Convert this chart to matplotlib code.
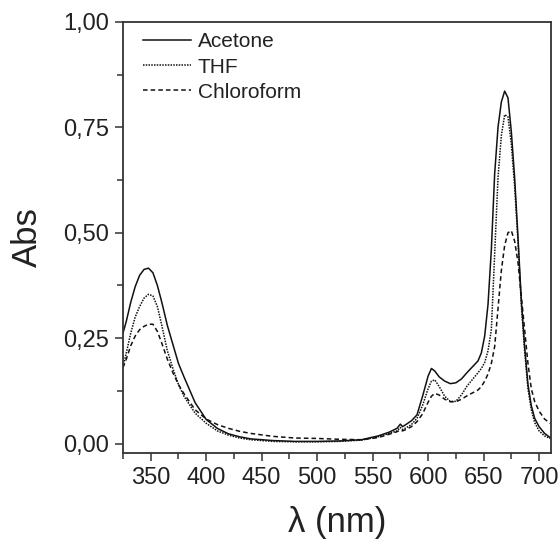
import matplotlib
matplotlib.use("Agg")
import matplotlib.pyplot as plt
from matplotlib.ticker import MultipleLocator, FuncFormatter

plt.rcParams['font.family'] = ['Liberation Sans', 'DejaVu Sans']

wavelength = [325, 328, 332, 336, 340, 344, 348, 352, 356, 360, 365, 370, 375, 380,
              390, 400, 410, 420, 430, 440, 460, 480, 500, 520, 540, 555, 565, 572,
              575, 577, 580, 585, 590, 595, 600, 603, 606, 610, 615, 620, 625, 630,
              635, 640, 645, 648, 651, 654, 657, 660, 663, 666, 669, 672, 675, 678,
              681, 684, 687, 690, 693, 696, 700, 705, 710]

acetone = [0.262, 0.290, 0.335, 0.372, 0.399, 0.413, 0.416, 0.405, 0.375, 0.335, 0.280,
           0.235, 0.190, 0.158, 0.097, 0.057, 0.036, 0.023, 0.016, 0.011, 0.007, 0.005,
           0.005, 0.006, 0.009, 0.018, 0.027, 0.036, 0.046, 0.040, 0.045, 0.054, 0.068,
           0.112, 0.160, 0.178, 0.172, 0.158, 0.148, 0.142, 0.144, 0.153, 0.168, 0.182,
           0.196, 0.215, 0.255, 0.330, 0.460, 0.640, 0.750, 0.810, 0.836, 0.820, 0.740,
           0.630, 0.490, 0.340, 0.230, 0.140, 0.090, 0.060, 0.040, 0.024, 0.014]

thf = [0.182, 0.215, 0.262, 0.300, 0.325, 0.345, 0.354, 0.350, 0.325, 0.280, 0.220,
       0.178, 0.140, 0.112, 0.072, 0.048, 0.030, 0.020, 0.013, 0.009, 0.005, 0.004,
       0.004, 0.005, 0.008, 0.016, 0.024, 0.030, 0.038, 0.033, 0.037, 0.045, 0.060,
       0.090, 0.130, 0.148, 0.151, 0.135, 0.112, 0.100, 0.100, 0.115, 0.136, 0.152,
       0.168, 0.178, 0.192, 0.220, 0.270, 0.450, 0.630, 0.730, 0.780, 0.775, 0.710,
       0.610, 0.480, 0.330, 0.220, 0.130, 0.080, 0.050, 0.030, 0.018, 0.012]

chloroform = [0.180, 0.200, 0.232, 0.255, 0.270, 0.278, 0.283, 0.283, 0.266, 0.238, 0.200,
              0.168, 0.140, 0.118, 0.080, 0.058, 0.045, 0.036, 0.029, 0.024, 0.017, 0.013,
              0.012, 0.010, 0.009, 0.014, 0.022, 0.028, 0.032, 0.030, 0.033, 0.040, 0.052,
              0.070, 0.098, 0.112, 0.119, 0.115, 0.105, 0.099, 0.099, 0.105, 0.113, 0.120,
              0.127, 0.135, 0.148, 0.165, 0.190, 0.230, 0.320, 0.410, 0.470, 0.500, 0.505,
              0.480, 0.430, 0.350, 0.270, 0.190, 0.130, 0.100, 0.077, 0.058, 0.048]

x_ticks = [350, 400, 450, 500, 550, 600, 650, 700]
y_ticks = [0.00, 0.25, 0.50, 0.75, 1.00]

fig = plt.figure(figsize=(5.6, 5.44), dpi=100)
ax = fig.add_axes([0.2196, 0.1673, 0.7638, 0.7923])

ax.plot(wavelength, acetone, color='#111111', lw=1.1, ls='-', label='Acetone')
ax.plot(wavelength, thf, color='#111111', lw=1.1, ls=(0, (1, 0.8)), label='THF')
ax.plot(wavelength, chloroform, color='#111111', lw=1.1, ls=(0, (3, 2)), label='Chloroform')

ax.set_xlim(325, 710.5)
ax.set_ylim(-0.0225, 1.0)
ax.set_xticks(x_ticks)
ax.set_yticks(y_ticks)
ax.xaxis.set_minor_locator(MultipleLocator(25))
ax.yaxis.set_minor_locator(MultipleLocator(0.125))
ax.yaxis.set_major_formatter(FuncFormatter(lambda v, p: f"{v:.2f}".replace('.', ',')))

for s in ax.spines.values():
    s.set_linewidth(1.3)
    s.set_color('#333333')
ax.tick_params(which='both', direction='out', top=False, right=False, color='#333333', width=1.1)
ax.tick_params(which='major', length=6, labelsize=17, pad=4, labelcolor='#222222')
ax.tick_params(which='minor', length=4)

ax.set_xlabel('λ (nm)', fontsize=25, color='#222222', labelpad=12)
ax.set_ylabel('Abs', fontsize=25, color='#222222', labelpad=14)

leg = ax.legend(loc='upper left', bbox_to_anchor=(0.012, 1.01), frameon=False, fontsize=15,
                handlelength=2.3, handletextpad=0.35, labelspacing=0.3, borderaxespad=0.3)
for t in leg.get_texts():
    t.set_color('#222222')

fig.savefig('out.png', dpi=100)
